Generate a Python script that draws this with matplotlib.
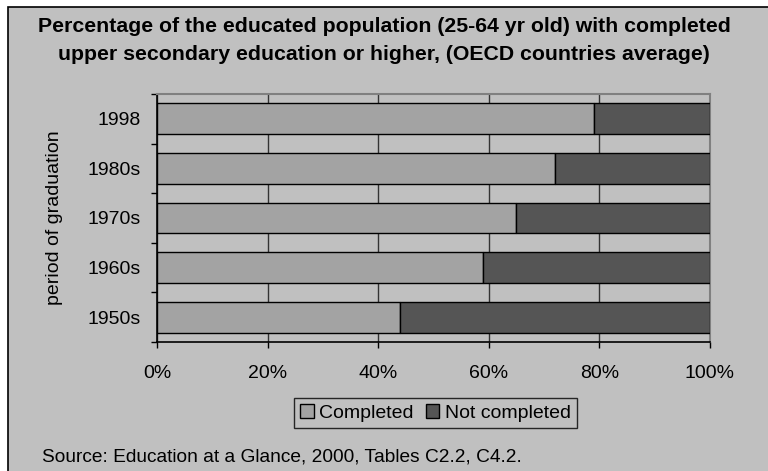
import matplotlib.pyplot as plt
from matplotlib.patches import Rectangle
import numpy as np

plt.rcParams["font.family"] = ["Liberation Sans", "DejaVu Sans"]

# Share of 25-64 year olds with upper secondary education, by graduation period
periods = ["1950s", "1960s", "1970s", "1980s", "1998"]
completed = [44, 59, 65, 72, 79]
not_completed = [100 - v for v in completed]

bg = "#C0C0C0"
fs = 14
fig = plt.figure(figsize=(7.68, 4.71), dpi=100)
fig.patch.set_facecolor("white")

# Chart frame (runs past the right and bottom edges)
frame = Rectangle((8 / 768, -0.05), 1.1, 1 - 7 / 471 + 0.05,
                  transform=fig.transFigure, facecolor=bg,
                  edgecolor="black", linewidth=1.2, zorder=-10)
fig.patches.append(frame)

ax = fig.add_axes([157 / 768, 1 - 342 / 471, (710 - 157) / 768, (342 - 94) / 471])
ax.set_facecolor(bg)

y = np.arange(len(periods))
ax.barh(y, completed, height=0.62, color="#A3A3A3", edgecolor="black",
        linewidth=1.0, label="Completed", zorder=3)
ax.barh(y, not_completed, left=completed, height=0.62, color="#555555",
        edgecolor="black", linewidth=1.0, label="Not completed", zorder=3)

ax.set_xlim(0, 100)
ax.set_ylim(-0.5, len(periods) - 0.5)
ax.set_xticks(np.arange(0, 101, 20))
ax.set_xticklabels(["{}%".format(v) for v in range(0, 101, 20)])
ax.set_yticks(y)
ax.set_yticklabels(periods)
ax.set_yticks(np.arange(-0.5, len(periods)), minor=True)

ax.tick_params(axis="x", direction="out", length=4.5, width=1, pad=12,
               labelsize=fs, colors="black")
ax.tick_params(axis="y", which="major", length=0, pad=12, labelsize=fs)
ax.tick_params(axis="y", which="minor", direction="out", length=4, width=1)

ax.xaxis.grid(True, color="#333333", linewidth=1.0, zorder=1)
ax.set_axisbelow(True)

for side in ["left", "bottom"]:
    ax.spines[side].set_color("black")
    ax.spines[side].set_linewidth(1.2)
for side in ["top", "right"]:
    ax.spines[side].set_color("#808080")
    ax.spines[side].set_linewidth(1.5)

ax.set_ylabel("period of graduation", fontsize=fs, labelpad=17)

fig.text(0.5, 1 - 27 / 471,
         "Percentage of the educated population (25-64 yr old) with completed",
         ha="center", va="center", fontsize=15.3, fontweight="bold")
fig.text(0.5, 1 - 54 / 471,
         "upper secondary education or higher, (OECD countries average)",
         ha="center", va="center", fontsize=15.3, fontweight="bold")

leg = fig.legend(loc="center", bbox_to_anchor=(435.5 / 768, 1 - 413 / 471),
                 ncol=2, fontsize=fs, frameon=True, fancybox=False,
                 handlelength=0.7, handleheight=0.7, handletextpad=0.3,
                 columnspacing=0.6, borderpad=0.3, borderaxespad=0)
leg.get_frame().set_facecolor(bg)
leg.get_frame().set_edgecolor("black")
leg.get_frame().set_linewidth(1.0)

fig.text(42 / 768, 1 - 457 / 471,
         "Source: Education at a Glance, 2000, Tables C2.2, C4.2.",
         ha="left", va="center", fontsize=13.8)

fig.savefig("out.png", dpi=100, facecolor=fig.get_facecolor())
